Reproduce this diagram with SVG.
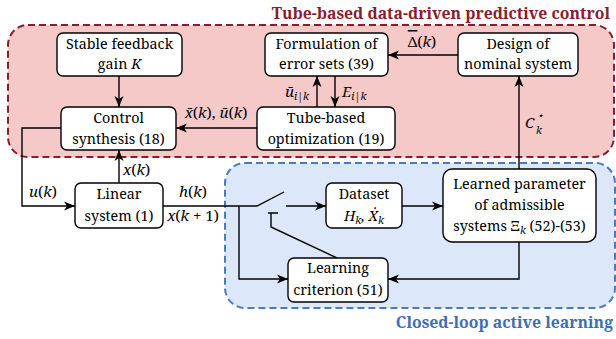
<svg xmlns="http://www.w3.org/2000/svg" width="616" height="339" viewBox="0 0 616 339">
<defs>
<marker id="arr" markerWidth="12" markerHeight="10" refX="11" refY="5" orient="auto" markerUnits="userSpaceOnUse">
<path d="M0,0.5 L11,5 L0,9.5 L3,5 z" fill="#000"/>
</marker>
<style>
.box{fill:#fff;stroke:#000;stroke-width:1.4}
.t{font-family:'Noto Serif','Liberation Serif',serif;font-size:14.3px;fill:#000;text-anchor:middle}
.m{font-family:'Noto Serif','Liberation Serif',serif;font-size:15px;fill:#000;font-style:italic}
.s{font-size:10.5px}
.c{fill:none;stroke:#000;stroke-width:1.4}
.a{marker-end:url(#arr)}
.h{font-family:'Noto Serif','Liberation Serif',serif;font-size:15.8px;font-weight:bold;text-anchor:end}
</style>
</defs>
<g id="region-tube">
<rect x="8" y="25" width="606" height="132" rx="20" fill="#F6C9C9" stroke="#8B1C2C" stroke-width="2" stroke-dasharray="7,4"/>
<text class="h" x="610" y="19" fill="#8B1C2C">Tube-based data-driven predictive control</text>
</g>
<g id="region-learning">
<rect x="225" y="163" width="390" height="145" rx="20" fill="#DCE8F9" stroke="#4A7BC0" stroke-width="2" stroke-dasharray="7,4"/>
<text class="h" x="613" y="328" fill="#3E6DB6">Closed-loop active learning</text>
</g>
<g id="connectors">
<path class="c a" d="M119,76 V107"/>
<path class="c a" d="M257,128 H176"/>
<path class="c a" d="M317,107 V76"/>
<path class="c a" d="M335,76 V107"/>
<path class="c a" d="M458,55 H388"/>
<path class="c a" d="M519,169 V76"/>
<path class="c a" d="M61,128 H22 V206 H75"/>
<path class="c a" d="M119,183 V150"/>
<path class="c" d="M163,206 H257 L284,192"/>
<path class="c a" d="M286,206 H326"/>
<path class="c a" d="M239,206 V279 H288"/>
<path class="c" d="M268,213 H278 M271,213 V227 L337,258"/>
<path class="c a" d="M402,206 H443"/>
<path class="c a" d="M519,242 V279 H388"/>
<text class="m" x="216" y="118" text-anchor="middle">x̄<tspan font-style="normal">(</tspan>k<tspan font-style="normal">), </tspan>ū<tspan font-style="normal">(</tspan>k<tspan font-style="normal">)</tspan></text>
<text class="m" x="297" y="97" text-anchor="middle">ū<tspan class="s" dy="3">i|k</tspan></text>
<text class="m" x="342" y="97">E<tspan class="s" dy="3">i|k</tspan></text>
<text class="m" x="422" y="47" text-anchor="middle"><tspan font-style="normal" style="text-decoration:overline">Δ</tspan><tspan font-style="normal">(</tspan>k<tspan font-style="normal">)</tspan></text>
<text class="m" x="525" y="128">C</text>
<text class="m s" x="537" y="119" font-style="normal">⋆</text>
<text class="m s" x="536" y="134">k</text>
<text class="m" x="123" y="175">x<tspan font-style="normal">(</tspan>k<tspan font-style="normal">)</tspan></text>
<text class="m" x="43" y="197" text-anchor="middle">u<tspan font-style="normal">(</tspan>k<tspan font-style="normal">)</tspan></text>
<text class="m" x="193" y="197" text-anchor="middle">h<tspan font-style="normal">(</tspan>k<tspan font-style="normal">)</tspan></text>
<text class="m" x="193" y="221" text-anchor="middle">x<tspan font-style="normal">(</tspan>k<tspan font-style="normal"> + 1)</tspan></text>
</g>
<g id="n-gain">
<rect class="box" x="57" y="33" width="125" height="43" rx="6"/>
<text class="t" x="119.5" y="49">Stable feedback</text>
<text class="t" x="119.5" y="69">gain <tspan font-style="italic">K</tspan></text>
</g>
<g id="n-control">
<rect class="box" x="61" y="107" width="115" height="43" rx="6"/>
<text class="t" x="118.5" y="123">Control</text>
<text class="t" x="118.5" y="144">synthesis (18)</text>
</g>
<g id="n-formulation">
<rect class="box" x="265" y="33" width="123" height="43" rx="6"/>
<text class="t" x="326.5" y="49">Formulation of</text>
<text class="t" x="326.5" y="69">error sets (39)</text>
</g>
<g id="n-design">
<rect class="box" x="458" y="33" width="120" height="43" rx="6"/>
<text class="t" x="518" y="49">Design of</text>
<text class="t" x="518" y="69">nominal system</text>
</g>
<g id="n-tube">
<rect class="box" x="257" y="107" width="138" height="43" rx="6"/>
<text class="t" x="326" y="123">Tube-based</text>
<text class="t" x="326" y="144">optimization (19)</text>
</g>
<g id="n-linear">
<rect class="box" x="75" y="183" width="88" height="45" rx="6"/>
<text class="t" x="119" y="199">Linear</text>
<text class="t" x="119" y="221">system (1)</text>
</g>
<g id="n-dataset">
<rect class="box" x="326" y="183" width="76" height="45" rx="6"/>
<text class="t" x="364" y="199">Dataset</text>
<text class="t" x="364" y="221" font-style="italic">H<tspan class="s" dy="3">k</tspan><tspan dy="-3">, Ẋ</tspan><tspan class="s" dy="3">k</tspan></text>
</g>
<g id="n-learned">
<rect class="box" x="443" y="169" width="153" height="73" rx="9"/>
<text class="t" x="519.5" y="189">Learned parameter</text>
<text class="t" x="519.5" y="210">of admissible</text>
<text class="t" x="519.5" y="231">systems Ξ<tspan class="s" dy="3" font-style="italic">k</tspan><tspan dy="-3"> (52)-(53)</tspan></text>
</g>
<g id="n-criterion">
<rect class="box" x="288" y="258" width="100" height="44" rx="6"/>
<text class="t" x="338" y="273">Learning</text>
<text class="t" x="338" y="295">criterion (51)</text>
</g>
</svg>
